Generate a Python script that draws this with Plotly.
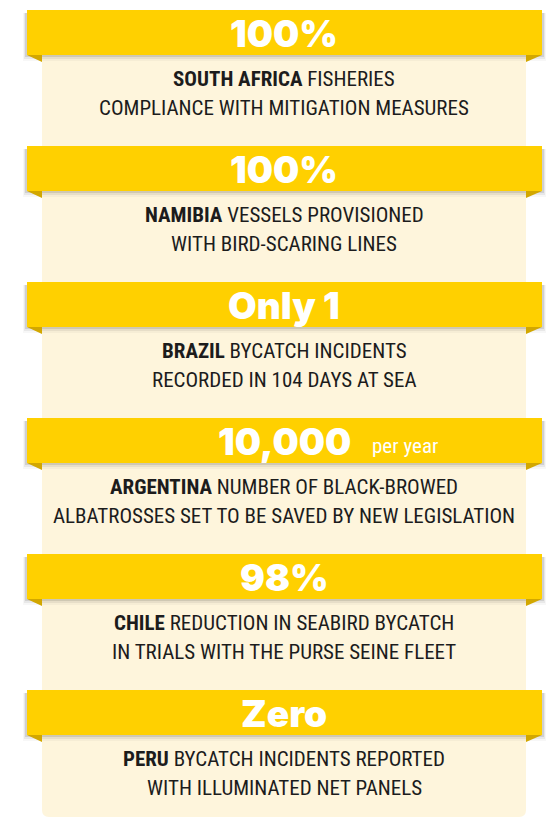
import plotly.graph_objects as go

# ---- data ----
headlines = ["100%", "100%", "Only 1", "10,000", "98%", "Zero"]
headline_suffix = ["", "", "", "per year", "", ""]
countries = ["SOUTH AFRICA", "NAMIBIA", "BRAZIL", "ARGENTINA", "CHILE", "PERU"]
line1_rest = ["FISHERIES", "VESSELS PROVISIONED", "BYCATCH INCIDENTS",
              "NUMBER OF BLACK-BROWED", "REDUCTION IN SEABIRD BYCATCH",
              "BYCATCH INCIDENTS REPORTED"]
line2 = ["COMPLIANCE WITH MITIGATION MEASURES", "WITH BIRD-SCARING LINES",
         "RECORDED IN 104 DAYS AT SEA",
         "ALBATROSSES SET TO BE SAVED BY NEW LEGISLATION",
         "IN TRIALS WITH THE PURSE SEINE FLEET", "WITH ILLUMINATED NET PANELS"]

# ---- style / layout ----
W, H = 559, 818
YELLOW = "#FFD000"
FOLD = "#D2A700"
CREAM = "#FEF5DC"
TEXT = "#1c1c1c"
RIB_L, RIB_R = 27, 542
PAN_L, PAN_R = 42, 526
CX = (PAN_L + PAN_R) / 2
RIB_TOP0, STEP, RIB_H = 10, 136, 45
BODY_FONT = "Liberation Sans Narrow, Roboto Condensed, DejaVu Sans Condensed, sans-serif"
HEAD_FONT = "Inter, Lato, sans-serif"

fig = go.Figure()
shapes = []
annotations = []

# cream panel with rounded bottom corners
r = 7
top = RIB_TOP0 + RIB_H
bot = 817
shapes.append(dict(
    type="path", layer="below", line=dict(width=0), fillcolor=CREAM,
    path=(f"M {PAN_L} {top} L {PAN_R} {top} L {PAN_R} {bot - r} "
          f"Q {PAN_R} {bot} {PAN_R - r} {bot} L {PAN_L + r} {bot} "
          f"Q {PAN_L} {bot} {PAN_L} {bot - r} Z")))

for i, h in enumerate(headlines):
    t = RIB_TOP0 + i * STEP
    b = t + RIB_H
    # soft shadow
    for k, a in enumerate([0.10, 0.06, 0.03]):
        shapes.append(dict(type="rect", x0=RIB_L - 2 - k, x1=RIB_R + 2 + k,
                           y0=t + 3, y1=b + 2 + 2 * k,
                           fillcolor=f"rgba(0,0,0,{a})", line=dict(width=0)))
    # folds
    shapes.append(dict(type="path", path=f"M {RIB_L} {b} L {PAN_L} {b} L {PAN_L} {b + 7} Z",
                       fillcolor=FOLD, line=dict(width=0)))
    shapes.append(dict(type="path", path=f"M {PAN_R} {b} L {RIB_R} {b} L {PAN_R} {b + 7} Z",
                       fillcolor=FOLD, line=dict(width=0)))
    # ribbon
    shapes.append(dict(type="rect", x0=RIB_L, x1=RIB_R, y0=t, y1=b,
                       fillcolor=YELLOW, line=dict(width=0)))
    # headline
    annotations.append(dict(x=CX, y=(t + b) / 2 + 1, text=h, showarrow=False,
                            xanchor="center", yanchor="middle",
                            font=dict(family=HEAD_FONT, size=37, color="white", weight=900)))
    if headline_suffix[i]:
        annotations.append(dict(x=370, y=(t + b) / 2 + 5, text=headline_suffix[i],
                                showarrow=False, xanchor="left", yanchor="middle",
                                font=dict(family=BODY_FONT, size=21, color="white")))
    # body lines
    annotations.append(dict(x=CX, y=b + 24, text=f"<b>{countries[i]}</b> {line1_rest[i]}",
                            showarrow=False, xanchor="center", yanchor="middle",
                            font=dict(family=BODY_FONT, size=21, color=TEXT)))
    annotations.append(dict(x=CX, y=b + 53, text=line2[i],
                            showarrow=False, xanchor="center", yanchor="middle",
                            font=dict(family=BODY_FONT, size=21, color=TEXT)))

fig.update_layout(
    width=W, height=H, autosize=False,
    margin=dict(l=0, r=0, t=0, b=0, pad=0),
    paper_bgcolor="white", plot_bgcolor="white",
    xaxis=dict(range=[0, W], visible=False, fixedrange=True),
    yaxis=dict(range=[H, 0], visible=False, fixedrange=True),
    shapes=shapes, annotations=annotations, showlegend=False,
)

fig.write_html("out.html", config={"displayModeBar": False},
               post_script="document.body.style.margin='0';")
